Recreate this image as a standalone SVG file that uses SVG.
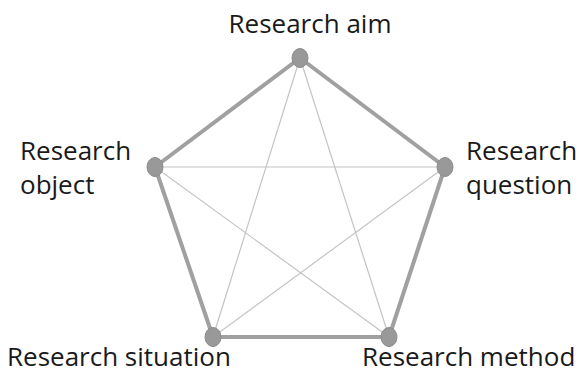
<svg xmlns="http://www.w3.org/2000/svg" width="580" height="374" viewBox="0 0 580 374">
<style>
.outer{stroke:#a0a0a0;stroke-width:4;fill:none}
.inner{stroke:#c4c4c4;stroke-width:1.2;fill:none}
.node{fill:#999999;stroke:#8c8c8c;stroke-width:1}
.lbl{font-family:"Open Sans","Liberation Sans",sans-serif;font-size:26px;fill:#1a1a1a}
</style>
<rect width="580" height="374" fill="#ffffff"/>
<g id="connectors">
<line class="outer" x1="300" y1="58" x2="445" y2="167"/>
<line class="outer" x1="445" y1="167" x2="389" y2="337"/>
<line class="outer" x1="389" y1="337" x2="213" y2="337"/>
<line class="outer" x1="213" y1="337" x2="155" y2="167"/>
<line class="outer" x1="155" y1="167" x2="300" y2="58"/>
<line class="inner" x1="300" y1="58" x2="213" y2="337"/>
<line class="inner" x1="300" y1="58" x2="389" y2="337"/>
<line class="inner" x1="155" y1="167" x2="445" y2="167"/>
<line class="inner" x1="155" y1="167" x2="389" y2="337"/>
<line class="inner" x1="445" y1="167" x2="213" y2="337"/>
</g>
<g id="aim"><ellipse class="node" cx="300" cy="58" rx="8" ry="9.5"/><text class="lbl" x="310" y="33" text-anchor="middle">Research aim</text></g>
<g id="question"><ellipse class="node" cx="445" cy="167" rx="8" ry="9.5"/><text class="lbl" x="466" y="160">Research</text><text class="lbl" x="466" y="194">question</text></g>
<g id="object"><ellipse class="node" cx="155" cy="167" rx="8" ry="9.5"/><text class="lbl" x="20" y="160">Research</text><text class="lbl" x="20" y="194">object</text></g>
<g id="situation"><ellipse class="node" cx="213" cy="337" rx="8" ry="9.5"/><text class="lbl" x="7" y="366">Research situation</text></g>
<g id="method"><ellipse class="node" cx="389" cy="337" rx="8" ry="9.5"/><text class="lbl" x="362" y="366">Research method</text></g>
</svg>
